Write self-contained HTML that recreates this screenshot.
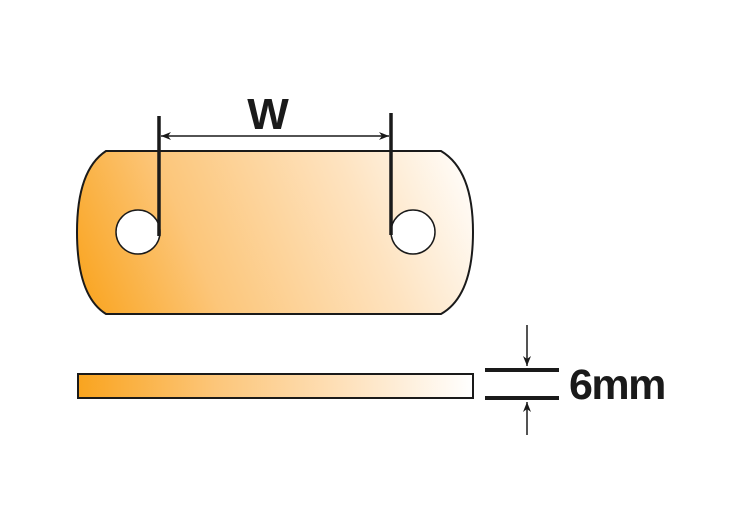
<!DOCTYPE html>
<html><head><style>body{margin:0;background:#fff}</style></head><body>
<svg width="750" height="525" viewBox="0 0 750 525" xmlns="http://www.w3.org/2000/svg">
<defs>
<linearGradient id="g1" x1="85" y1="314" x2="473" y2="151" gradientUnits="userSpaceOnUse">
<stop offset="0" stop-color="#f9a41f"/><stop offset="0.3" stop-color="#fcc67a"/><stop offset="0.7" stop-color="#fee3c0"/><stop offset="1" stop-color="#ffffff"/>
</linearGradient>
<linearGradient id="g2" x1="78" y1="0" x2="473" y2="0" gradientUnits="userSpaceOnUse">
<stop offset="0" stop-color="#f9a41f"/><stop offset="0.35" stop-color="#fcc67a"/><stop offset="0.7" stop-color="#fee3c0"/><stop offset="1" stop-color="#ffffff"/>
</linearGradient>
<marker id="a" markerWidth="10" markerHeight="8" refX="10" refY="4" orient="auto" markerUnits="userSpaceOnUse"><path d="M0,0 L10,4 L0,8 L3,4 Z" fill="#1a1a1a"/></marker>
</defs>
<path d="M106,151 L441,151 Q473,170 473,232 Q473,296 441,314 L106,314 Q77,296 77,232 Q77,170 106,151 Z" fill="url(#g1)" stroke="#1a1a1a" stroke-width="2"/>
<circle cx="138" cy="232" r="22" fill="#fff" stroke="#1a1a1a" stroke-width="1.5"/>
<circle cx="413" cy="232" r="22" fill="#fff" stroke="#1a1a1a" stroke-width="1.5"/>
<line x1="159" y1="116" x2="159" y2="236" stroke="#1a1a1a" stroke-width="3.5"/>
<line x1="391" y1="113" x2="391" y2="235" stroke="#1a1a1a" stroke-width="3.5"/>
<line x1="275" y1="136" x2="389" y2="136" stroke="#1a1a1a" stroke-width="1.5" marker-end="url(#a)"/>
<line x1="275" y1="136" x2="161" y2="136" stroke="#1a1a1a" stroke-width="1.5" marker-end="url(#a)"/>
<text x="268" y="129" text-anchor="middle" font-family="Liberation Sans, sans-serif" font-weight="bold" font-size="44" fill="#1a1a1a">W</text>
<rect x="78" y="374" width="395" height="24" fill="url(#g2)" stroke="#1a1a1a" stroke-width="2"/>
<line x1="485" y1="370" x2="559" y2="370" stroke="#1a1a1a" stroke-width="4"/>
<line x1="485" y1="398" x2="559" y2="398" stroke="#1a1a1a" stroke-width="4"/>
<line x1="527" y1="325" x2="527" y2="366" stroke="#1a1a1a" stroke-width="1.5" marker-end="url(#a)"/>
<line x1="527" y1="435" x2="527" y2="402" stroke="#1a1a1a" stroke-width="1.5" marker-end="url(#a)"/>
<text x="569" y="399" font-family="Liberation Sans, sans-serif" font-weight="bold" font-size="43" fill="#1a1a1a" letter-spacing="-1.5">6mm</text>
</svg>
</body></html>
